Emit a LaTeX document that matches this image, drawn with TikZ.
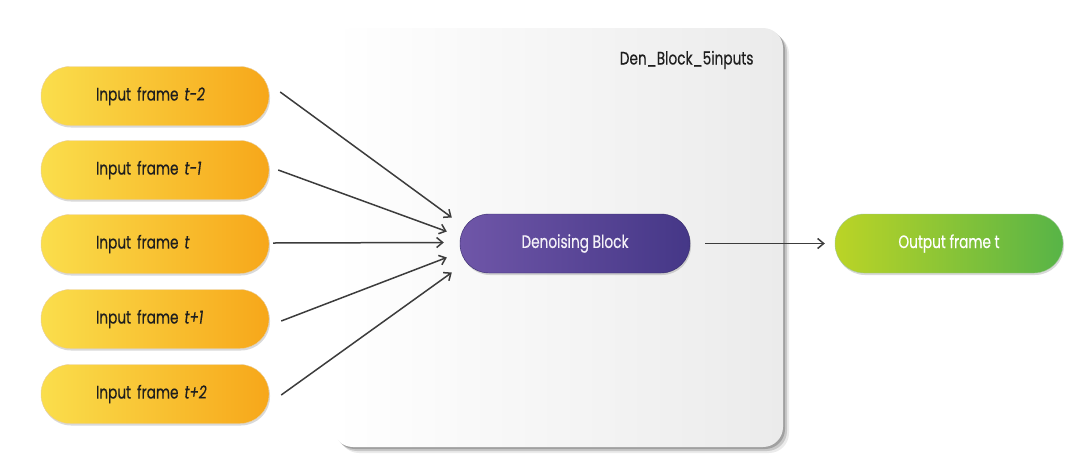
\documentclass[tikz,border=0pt]{standalone}
\usepackage{fontspec}
\setmainfont{Poppins}[FakeStretch=0.76,FakeBold=0.4]
\usetikzlibrary{shadows,calc,arrows.meta}
\definecolor{yelL}{HTML}{FADE4C}
\definecolor{yelR}{HTML}{F7A71A}
\definecolor{purL}{HTML}{6F56A8}
\definecolor{purR}{HTML}{453787}
\definecolor{grnL}{HTML}{BBD426}
\definecolor{grnR}{HTML}{57B447}
\definecolor{boxR}{HTML}{EBEBEB}
\definecolor{arrc}{HTML}{3C3C3C}
\definecolor{txtd}{HTML}{1E1E1E}
\begin{document}
\begin{tikzpicture}[x=1pt,y=-1pt,
  pill/.style={rounded corners=29pt, minimum height=59pt, font=\fontsize{18}{21}\selectfont,
    drop shadow={shadow xshift=1pt, shadow yshift=-2pt, fill=black, opacity=0.15}},
  inbox/.style={pill, minimum width=228pt, text width=118pt, inner xsep=55pt, align=left,
    left color=yelL, right color=yelR, draw=yelR!80!black!40, line width=0.4pt, text=txtd},
  denbox/.style={pill, minimum width=230pt, left color=purL, right color=purR,
    draw=purR!80!black, line width=0.4pt, text=white!92!purL},
  outbox/.style={pill, minimum width=228pt, left color=grnL, right color=grnR,
    draw=grnR!80!black!50, line width=0.4pt, text=white},
  container/.style={rounded corners=20pt, minimum width=450pt, minimum height=419pt,
    left color=white, right color=boxR, inner sep=0pt,
    drop shadow={shadow xshift=6pt, shadow yshift=-6pt, fill=black, opacity=0.08},
    drop shadow={shadow xshift=4pt, shadow yshift=-4pt, fill=black, opacity=0.15},
    drop shadow={shadow xshift=2pt, shadow yshift=-2pt, fill=black, opacity=0.2}},
  arr/.style={draw=arrc, line width=1.5pt, -{Straight Barb[length=6pt,width=10pt]}}]
\useasboundingbox (0,0) rectangle (1091,469);
\node[container] (cont) at (558,237.5) {};
\node[anchor=east, font=\fontsize{18}{21}\selectfont, text=txtd] (title) at (757,60) {Den\_Block\_5inputs};

\node[inbox] (in1) at (155,96)  {Input frame \textit{t-2}};
\node[inbox] (in2) at (155,170) {Input frame \textit{t-1}};
\node[inbox] (in3) at (155,244) {Input frame \textit{t}};
\node[inbox] (in4) at (155,319) {Input frame \textit{t+1}};
\node[inbox] (in5) at (155,394) {Input frame \textit{t+2}};

\node[denbox] (den) at (575,243.5) {Denoising Block};
\node[outbox] (out) at (949,243.5) {Output frame t};

\draw[arr] ($(in1.east)+(11,-4)$) -- ($(den.west)+(-8,-26)$);
\draw[arr] ($(in2.east)+(9,0)$) -- ($(den.west)+(-13,-12)$);
\draw[arr] ($(in3.east)+(4,-1)$) -- ($(den.west)+(-16,-1)$);
\draw[arr] ($(in4.east)+(12,2)$) -- ($(den.west)+(-13,14)$);
\draw[arr] ($(in5.east)+(12,1)$) -- ($(den.west)+(-8,29)$);
\draw[arr] ($(den.east)+(15,0)$) -- ($(out.west)+(-10,0)$);
\end{tikzpicture}
\end{document}
